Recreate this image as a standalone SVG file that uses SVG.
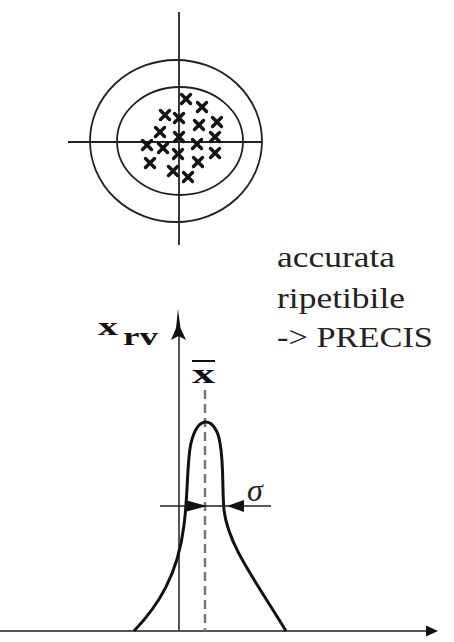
<svg xmlns="http://www.w3.org/2000/svg" width="454" height="642" viewBox="0 0 454 642">
<style>
.ln{stroke:#222;stroke-width:1.8;fill:none}
.ax{stroke:#555;stroke-width:2;fill:none}
.txt{font-family:"Liberation Serif",serif;fill:#222}
.b{font-weight:bold;fill:#111}
</style>
<defs>
<path id="cx" d="M-4.5,-4.5 L4.5,4.5 M4.5,-4.5 L-4.5,4.5" stroke="#111" stroke-width="3.4" stroke-linecap="round" fill="none"/>
</defs>
<rect width="454" height="642" fill="#fff"/>
<g id="target">
<line class="ln" x1="179" y1="12" x2="179" y2="245"/>
<line class="ln" x1="68" y1="142" x2="262" y2="142"/>
<ellipse class="ln" cx="176" cy="141" rx="86" ry="81"/>
<ellipse class="ln" cx="180" cy="141" rx="63" ry="54"/>
</g>
<g id="shots">
<use href="#cx" x="186" y="99"/>
<use href="#cx" x="202" y="107"/>
<use href="#cx" x="165" y="115"/>
<use href="#cx" x="179" y="118"/>
<use href="#cx" x="199" y="125"/>
<use href="#cx" x="217" y="122"/>
<use href="#cx" x="160" y="132"/>
<use href="#cx" x="179" y="137"/>
<use href="#cx" x="215" y="137"/>
<use href="#cx" x="197" y="144"/>
<use href="#cx" x="147" y="145"/>
<use href="#cx" x="163" y="148"/>
<use href="#cx" x="178" y="154"/>
<use href="#cx" x="215" y="153"/>
<use href="#cx" x="198" y="162"/>
<use href="#cx" x="150" y="163"/>
<use href="#cx" x="173" y="171"/>
<use href="#cx" x="188" y="177"/>
</g>
<g id="labels" class="txt">
<text x="277" y="267" font-size="30" textLength="118" lengthAdjust="spacingAndGlyphs">accurata</text>
<text x="277" y="308" font-size="30" textLength="128" lengthAdjust="spacingAndGlyphs">ripetibile</text>
<text x="277" y="347" font-size="30" textLength="156" lengthAdjust="spacingAndGlyphs">-&gt; PRECIS</text>
</g>
<g id="connectors">
<line class="ax" x1="179" y1="330" x2="179" y2="631"/>
<path d="M178,309 L180.5,328 L186,340 L178.5,336 L171,340 L176,328 Z" fill="#111"/>
<line class="ax" x1="0" y1="631" x2="428" y2="631"/>
<path d="M438,631 L426,625.5 L426,636.5 Z" fill="#111"/>
<line x1="205" y1="390" x2="205" y2="631" stroke="#777" stroke-width="2.5" stroke-dasharray="9 5"/>
<path d="M134,631 C158,606 178,575 184,525 C188,495 187,460 191,443 C195,427 201,422 206,422 C212,422 218,430 220,443 C224,465 222,490 224,510 C228,545 255,580 286,631" fill="none" stroke="#111" stroke-width="3"/>
<line x1="160" y1="506" x2="271" y2="506" stroke="#222" stroke-width="1.6"/>
<path d="M207,506 L185,500 L185,512 Z" fill="#111"/>
<path d="M227,506 L244,500 L244,512 Z" fill="#111"/>
</g>
<g id="axis-labels" class="txt">
<text class="b" x="98" y="335" font-size="26" textLength="20" lengthAdjust="spacingAndGlyphs">x</text>
<text class="b" x="123" y="345" font-size="26" textLength="35" lengthAdjust="spacingAndGlyphs">rv</text>
<text class="b" x="192" y="383" font-size="28" textLength="23" lengthAdjust="spacingAndGlyphs">x</text>
<line x1="192" y1="361" x2="215" y2="361" stroke="#111" stroke-width="2"/>
<text x="247" y="501" font-size="32" font-style="italic">σ</text>
</g>
</svg>
